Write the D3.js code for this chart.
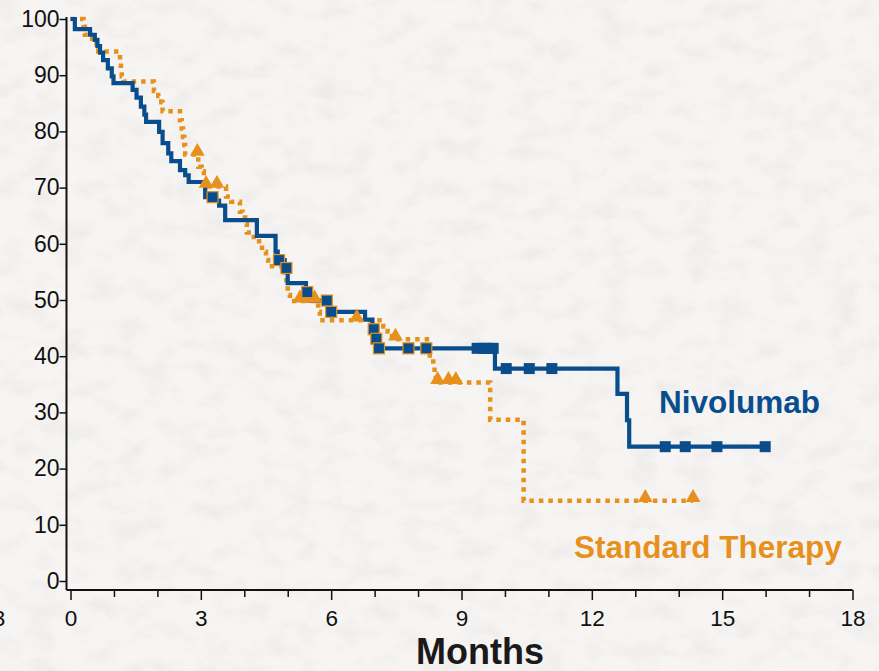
<!DOCTYPE html>
<html>
<head>
<meta charset="utf-8">
<script src="https://cdn.jsdelivr.net/npm/d3@7"></script>
<style>
  html, body { margin: 0; padding: 0; background: #f4f3f1; }
  svg { display: block; font-family: "Liberation Sans", Arial, sans-serif; }
</style>
</head>
<body>
<svg id="chart" width="879" height="671"></svg>
<script>
// Kaplan–Meier style survival curves (%), step changes at event times (months)
const nivoTimes = [0, 0.10, 0.45, 0.56, 0.62, 0.68, 0.75, 0.86, 0.95, 0.99, 1.43, 1.52, 1.62, 1.70, 1.74,
  2.04, 2.12, 2.25, 2.32, 2.52, 2.64, 2.72, 3.10, 3.30, 3.42, 3.56, 4.29, 4.72, 4.77, 4.93, 5.00,
  5.42, 5.50, 5.97, 6.78, 6.95, 7.02, 7.07, 9.77, 12.59, 12.81, 12.86];
const nivoSurv = [100, 98.2, 97.2, 96.3, 95.2, 94.0, 92.7, 91.2, 89.8, 88.6, 87.4, 86.0, 84.4, 83.0, 81.7,
  79.9, 77.9, 76.1, 74.7, 73.1, 72.2, 71.0, 68.3, 67.7, 66.8, 64.2, 61.4, 58.6, 57.1, 55.7, 53.0,
  51.4, 49.9, 47.9, 46.5, 44.8, 43.1, 41.4, 37.8, 33.3, 28.6, 23.9];
const nivoEnd = 15.99;
const nivoCensor = [3.27, 4.80, 4.97, 5.45, 5.90, 6.00, 6.98, 7.04, 7.10, 7.78, 8.19,
  9.36, 9.50, 9.62, 9.73, 10.03, 10.56, 11.08, 13.69, 14.15, 14.88, 15.99];

const stdTimes = [0, 0.30, 0.33, 0.50, 0.60, 0.64, 1.14, 1.16, 1.18, 1.22, 1.92, 2.02, 2.09, 2.12,
  2.52, 2.56, 2.59, 2.62, 2.64, 2.94, 3.02, 3.07, 3.58, 3.70, 3.90, 3.96, 4.02, 4.06, 4.22, 4.34,
  4.47, 4.50, 4.55, 4.93, 4.97, 5.00, 5.05, 5.70, 5.74, 7.20, 7.30, 7.40, 8.27, 8.35, 8.38, 8.41,
  9.66, 10.43];
const stdSurv = [100, 98.6, 97.2, 96.5, 95.5, 94.2, 92.6, 91.2, 89.8, 88.9, 87.2, 86.3, 85.2, 83.6,
  82.0, 80.5, 79.0, 77.6, 75.9, 73.7, 72.9, 70.2, 68.4, 67.5, 65.7, 64.7, 63.6, 62.0, 61.2, 59.3,
  58.6, 57.1, 56.0, 53.9, 52.5, 50.9, 49.8, 47.9, 46.4, 45.3, 44.4, 43.0, 39.6, 38.4, 37.2, 35.3,
  28.7, 14.3];
const stdEnd = 14.33;
const stdCensor = [2.92, 3.12, 3.37, 5.28, 5.45, 5.62, 6.59, 7.48, 8.45, 8.70, 8.87, 13.23, 14.33];

const xTicks = d3.range(0, 19);           // one tick per month
const xLabelTicks = [0, 3, 6, 9, 12, 15, 18];
const yTicks = [0, 10, 20, 30, 40, 50, 60, 70, 80, 90, 100];

const seriesNames = ["Nivolumab", "Standard Therapy"];
const xTitle = "Months";

const BLUE = "#0a4d8c";
const ORANGE = "#e8901c";

const svg = d3.select("#chart");

// paper texture background
const defs = svg.append("defs");
const paper = defs.append("filter").attr("id", "paper")
  .attr("x", 0).attr("y", 0).attr("width", "100%").attr("height", "100%");
paper.append("feTurbulence").attr("type", "fractalNoise")
  .attr("baseFrequency", "0.035 0.05").attr("numOctaves", 5).attr("seed", 11).attr("result", "n");
paper.append("feColorMatrix").attr("in", "n").attr("type", "matrix")
  .attr("values", "0 0 0 0 0.55  0 0 0 0 0.54  0 0 0 0 0.53  1.1 0 0 0 -0.48");
svg.append("rect").attr("width", 879).attr("height", 671).attr("fill", "#f6f5f3");
svg.append("rect").attr("width", 879).attr("height", 671).attr("filter", "url(#paper)").attr("opacity", 0.35);

const x = d3.scaleLinear().domain([0, 18]).range([70.5, 852.5]);
const y = d3.scaleLinear().domain([0, 100]).range([581, 19]);

const axisX0 = 66.5, axisY0 = 590;

// y axis
const gy = svg.append("g").attr("transform", `translate(${axisX0},0)`)
  .call(d3.axisLeft(y).tickValues(yTicks).tickSize(7).tickPadding(0));
gy.select(".domain").remove();
gy.selectAll(".tick line").attr("stroke", "#111").attr("stroke-width", 1.5);
gy.selectAll(".tick text").attr("font-size", 23).attr("fill", "#111")
  .attr("font-family", "Liberation Sans, Arial, sans-serif");
svg.append("line").attr("x1", axisX0).attr("x2", axisX0).attr("y1", y(100) - 2).attr("y2", axisY0)
  .attr("stroke", "#111").attr("stroke-width", 2);

// x axis
const gx = svg.append("g").attr("transform", `translate(0,${axisY0})`)
  .call(d3.axisBottom(x).tickValues(xTicks).tickSize(7)
    .tickFormat(d => xLabelTicks.includes(d) ? d : ""));
gx.select(".domain").remove();
gx.selectAll(".tick line").attr("stroke", "#111").attr("stroke-width", 1.5)
  .attr("y2", d => xLabelTicks.includes(d) ? 10 : 7);
gx.selectAll(".tick text").attr("font-size", 22.5).attr("fill", "#111").attr("y", 20)
  .attr("font-family", "Liberation Sans, Arial, sans-serif");
svg.append("line").attr("x1", axisX0).attr("x2", x(18)).attr("y1", axisY0).attr("y2", axisY0)
  .attr("stroke", "#111").attr("stroke-width", 2);
// label partly beyond the left edge
svg.append("text").attr("x", -1).attr("y", axisY0 + 20).attr("dy", "0.71em")
  .attr("text-anchor", "middle").attr("font-size", 22.5).attr("fill", "#111").text("3");

svg.append("text").attr("x", 480).attr("y", 664).attr("text-anchor", "middle")
  .attr("font-size", 36).attr("font-weight", "bold").attr("fill", "#1a1a1a").text(xTitle);

// step curves
function stepPoints(times, surv, end) {
  const pts = times.map((t, i) => [t, surv[i]]);
  pts.push([end, surv[surv.length - 1]]);
  return pts;
}
function survAt(times, surv, t) {
  const i = d3.bisectRight(times, t) - 1;
  return surv[Math.max(0, i)];
}
const line = d3.line().x(d => x(d[0])).y(d => y(d[1])).curve(d3.curveStepAfter);

// standard therapy: dotted orange
svg.append("path").datum(stepPoints(stdTimes, stdSurv, stdEnd))
  .attr("d", line).attr("fill", "none").attr("stroke", ORANGE)
  .attr("stroke-width", 4.5).attr("stroke-dasharray", "4.5,5");

// nivolumab: solid blue
svg.append("path").datum(stepPoints(nivoTimes, nivoSurv, nivoEnd))
  .attr("d", line).attr("fill", "none").attr("stroke", BLUE)
  .attr("stroke-width", 4.2).attr("stroke-linejoin", "miter");

// censor marks
const tri = d3.symbol().type(d3.symbolTriangle).size(95);
svg.append("g").selectAll("path").data(stdCensor).join("path")
  .attr("d", tri)
  .attr("transform", t => `translate(${x(t)},${y(survAt(stdTimes, stdSurv, t)) - 3})`)
  .attr("fill", ORANGE);

const sq = 11;
svg.append("g").selectAll("rect").data(nivoCensor).join("rect")
  .attr("x", t => x(t) - sq / 2)
  .attr("y", t => y(survAt(nivoTimes, nivoSurv, t)) - sq / 2)
  .attr("width", sq).attr("height", sq)
  .attr("fill", BLUE)
  .attr("stroke", t => t < 9 ? ORANGE : "none").attr("stroke-width", 1.2);

// series labels
svg.append("text").attr("x", 659).attr("y", 413).attr("font-size", 31.5).attr("font-weight", "bold")
  .attr("fill", BLUE).text(seriesNames[0]);
svg.append("text").attr("x", 574).attr("y", 558).attr("font-size", 31.5).attr("font-weight", "bold")
  .attr("fill", ORANGE).text(seriesNames[1]);
</script>
</body>
</html>
